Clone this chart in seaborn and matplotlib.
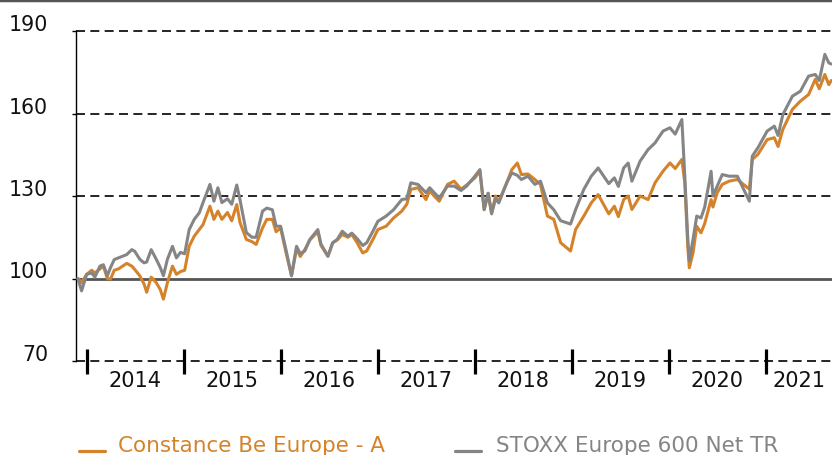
import pandas as pd
import matplotlib
matplotlib.use("Agg")
import matplotlib.pyplot as plt
from matplotlib.lines import Line2D
import seaborn as sns

# valeurs (base 100)
dates = [
    "2013-11-29", "2013-12-13", "2014-01-01", "2014-01-20", "2014-02-01", "2014-02-20",
    "2014-03-05", "2014-03-20", "2014-04-01", "2014-04-15", "2014-05-01", "2014-06-01",
    "2014-06-20", "2014-07-01", "2014-07-20", "2014-08-05", "2014-08-15", "2014-09-01",
    "2014-09-20", "2014-10-05", "2014-10-17", "2014-11-01", "2014-11-20", "2014-12-05",
    "2014-12-20", "2015-01-05", "2015-01-22", "2015-02-10", "2015-03-01", "2015-03-15",
    "2015-04-10", "2015-04-25", "2015-05-10", "2015-05-25", "2015-06-15", "2015-07-01",
    "2015-07-20", "2015-08-01", "2015-08-25", "2015-09-15", "2015-10-01", "2015-10-25",
    "2015-11-10", "2015-12-01", "2015-12-15", "2016-01-01", "2016-01-20", "2016-02-11",
    "2016-03-01", "2016-03-15", "2016-04-01", "2016-04-20", "2016-05-20", "2016-06-01",
    "2016-06-27", "2016-07-15", "2016-08-01", "2016-08-20", "2016-09-10", "2016-09-25",
    "2016-10-15", "2016-11-05", "2016-11-20", "2016-12-15", "2017-01-01", "2017-02-01",
    "2017-03-01", "2017-04-01", "2017-04-20", "2017-05-05", "2017-06-01", "2017-07-01",
    "2017-07-15", "2017-08-01", "2017-08-20", "2017-09-20", "2017-10-15", "2017-11-10",
    "2017-12-01", "2018-01-01", "2018-01-20", "2018-02-05", "2018-02-20", "2018-03-05",
    "2018-03-20", "2018-04-01", "2018-05-01", "2018-05-20", "2018-06-10", "2018-06-25",
    "2018-07-20", "2018-08-15", "2018-09-05", "2018-10-01", "2018-10-25", "2018-11-20",
    "2018-12-27", "2019-01-15", "2019-02-15", "2019-03-15", "2019-04-10", "2019-05-20",
    "2019-06-10", "2019-06-25", "2019-07-15", "2019-08-01", "2019-08-15", "2019-09-15",
    "2019-10-15", "2019-11-10", "2019-12-10", "2020-01-05", "2020-01-25", "2020-02-19",
    "2020-03-01", "2020-03-12", "2020-03-18", "2020-04-01", "2020-04-15", "2020-05-01",
    "2020-05-15", "2020-06-08", "2020-06-15", "2020-07-01", "2020-07-20", "2020-08-15",
    "2020-09-15", "2020-10-30", "2020-11-10", "2020-12-01", "2021-01-05", "2021-02-01",
    "2021-02-15", "2021-03-05", "2021-04-10", "2021-05-10", "2021-06-10", "2021-07-05",
    "2021-07-20", "2021-08-10", "2021-08-25", "2021-09-03",
]
fonds = [
    100, 98.5, 101.5, 103, 102, 103.5,
    104.5, 100, 99.8, 103, 103.5, 105.5,
    104.5, 103.3, 101, 98, 95, 100.5,
    98.5, 96, 92.5, 98.5, 104.5, 101.5,
    102.5, 103, 111.7, 115.4, 117.8, 119.6,
    126.3, 121.5, 124.5, 121.5, 124, 121,
    126.9, 120.4, 114.2, 113.4, 112.4, 118.4,
    121.5, 121.5, 117, 118.4, 110, 101,
    110.9, 108, 110.5, 114, 117, 112,
    108.1, 113, 114, 116, 115, 116,
    113, 109.3, 110, 114.5, 117.8, 119,
    122, 124.5, 127, 132.4, 133, 128.7,
    132, 130, 128.1, 134.2, 135.4, 132.5,
    134, 136.6, 139, 125, 131, 124,
    130, 128, 134.8, 139.6, 142, 137.8,
    138, 136, 134.2, 122.7, 121.5, 113,
    110, 117.8, 122.7, 127.5, 130.5, 123.5,
    126.3, 122.5, 128.7, 130, 125.1, 130,
    128.7, 134.8, 139, 142, 140, 143.3,
    134.8, 112, 103.9, 109.3, 119, 116.6,
    120, 128.7, 126, 131.2, 134.2, 135.4,
    136, 132.5, 143.3, 145.1, 150.5, 151.2,
    148, 154.2, 161.5, 164.5, 166.9, 172.4,
    169, 174.2, 170.5, 172,
]
indice = [
    100, 95.5, 101.5, 102, 100.5, 104.5,
    105, 101, 104, 106.9, 107.5, 108.7,
    110.5, 109.9, 107, 105.7, 106, 110.5,
    107, 104, 101, 107, 111.7, 107.5,
    109.5, 109, 117.8, 121.5, 123.9, 127.6,
    134.2, 128.1, 133, 127.6, 129, 127,
    134, 128.7, 116.7, 115, 115, 124.5,
    125.6, 125, 119, 119, 111, 101,
    111.7, 109, 110, 114.2, 117.8, 112.5,
    108.1, 113, 114.2, 117.2, 115.4, 116.5,
    114.5, 112, 113, 117.5, 120.8, 122.7,
    125, 128.7, 129, 134.8, 134.2, 131.2,
    133, 131.2, 129.3, 133.6, 133.6, 132,
    133.6, 137.2, 139.6, 125.1, 131, 123.5,
    129, 127.5, 134.8, 138.4, 137.5, 136,
    137.2, 134.2, 135.4, 127.5, 125, 121,
    119.8, 125, 132.4, 137.2, 140.2, 134.5,
    136.6, 133.5, 140.2, 142, 135.4, 142.7,
    146.9, 149.3, 153.6, 154.8, 152.5, 157.8,
    137.2, 115, 106.5, 114.2, 122.7, 122,
    126, 139, 130, 133.6, 137.8, 137.2,
    137.2, 128.1, 144.5, 147.5, 153.6, 155.4,
    152, 159.6, 166.3, 168.1, 173.6, 174.2,
    172, 181.5, 178.4, 178,
]
noms = ["Constance Be Europe - A", "STOXX Europe 600 Net TR"]
couleurs = ["#D5832B", "#858585"]
annees = list(range(2014, 2022))
graduations_y = [70, 100, 130, 160, 190]

df = pd.DataFrame({"date": pd.to_datetime(dates), noms[0]: fonds, noms[1]: indice})
df = df.melt(id_vars="date", var_name="serie", value_name="valeur")

sns.set_style("white")
plt.rcParams["font.family"] = ["DejaVu Sans"]

fig = plt.figure(figsize=(8.32, 4.55), dpi=100)
ax = fig.add_axes([76 / 832, 94 / 455, 756 / 832, 330 / 455])

# lignes horizontales
for v in graduations_y:
    if v == 100:
        ax.axhline(v, color="#555555", lw=2, zorder=1)
    else:
        ax.axhline(v, color="black", lw=1.2, ls=(0, (5.4, 3.2)), zorder=1, clip_on=False)

sns.lineplot(data=df, x="date", y="valeur", hue="serie", hue_order=noms,
             palette=couleurs, linewidth=2.2, legend=False, ax=ax, zorder=3)

debut, fin = pd.Timestamp("2013-11-22"), pd.Timestamp("2021-09-06")
ax.set_xlim(debut, fin)
ax.set_ylim(70, 190)
ax.set_yticks(graduations_y)
ax.set_xlabel("")
ax.set_ylabel("")

for s in ["top", "right", "bottom"]:
    ax.spines[s].set_visible(False)
ax.spines["left"].set_color("black")
ax.spines["left"].set_linewidth(1)

ax.tick_params(axis="y", length=3, width=1, color="black", pad=17,
               labelsize=14.8, labelcolor="#111111", left=True)
for t in ax.get_yticklabels():
    t.set_verticalalignment("baseline")

# années : traits aux changements d'année, libellés au milieu de la partie visible
traits = [pd.Timestamp(f"{a}-01-01") for a in annees]
milieux = [t + (min(t + pd.DateOffset(years=1), fin) - t) / 2 for t in traits]
ax.set_xticks(traits)
ax.set_xticklabels([])
ax.set_xticks(milieux, minor=True)
ax.set_xticklabels([str(a) for a in annees], minor=True)
ax.tick_params(axis="x", which="major", direction="inout", length=18, width=2.3,
               color="black", bottom=True)
ax.tick_params(axis="x", which="minor", length=0, pad=7, labelsize=15,
               labelcolor="#111111", bottom=True)

# trait en haut de l'image
fig.add_artist(Line2D([0, 1], [1, 1], transform=fig.transFigure, color="#555555", lw=2.5))

# légende
leg_y = 1 - 451 / 455
for (x0, x1, xt), nom, c in zip([(79, 105, 118), (455, 481, 496)], noms, couleurs):
    fig.add_artist(Line2D([x0 / 832, x1 / 832], [leg_y, leg_y], transform=fig.transFigure,
                          color=c, lw=2.3))
    fig.text(xt / 832, 1 - 452 / 455, nom, color=c, fontsize=15.5, va="baseline")

fig.savefig("out.png", dpi=100)
